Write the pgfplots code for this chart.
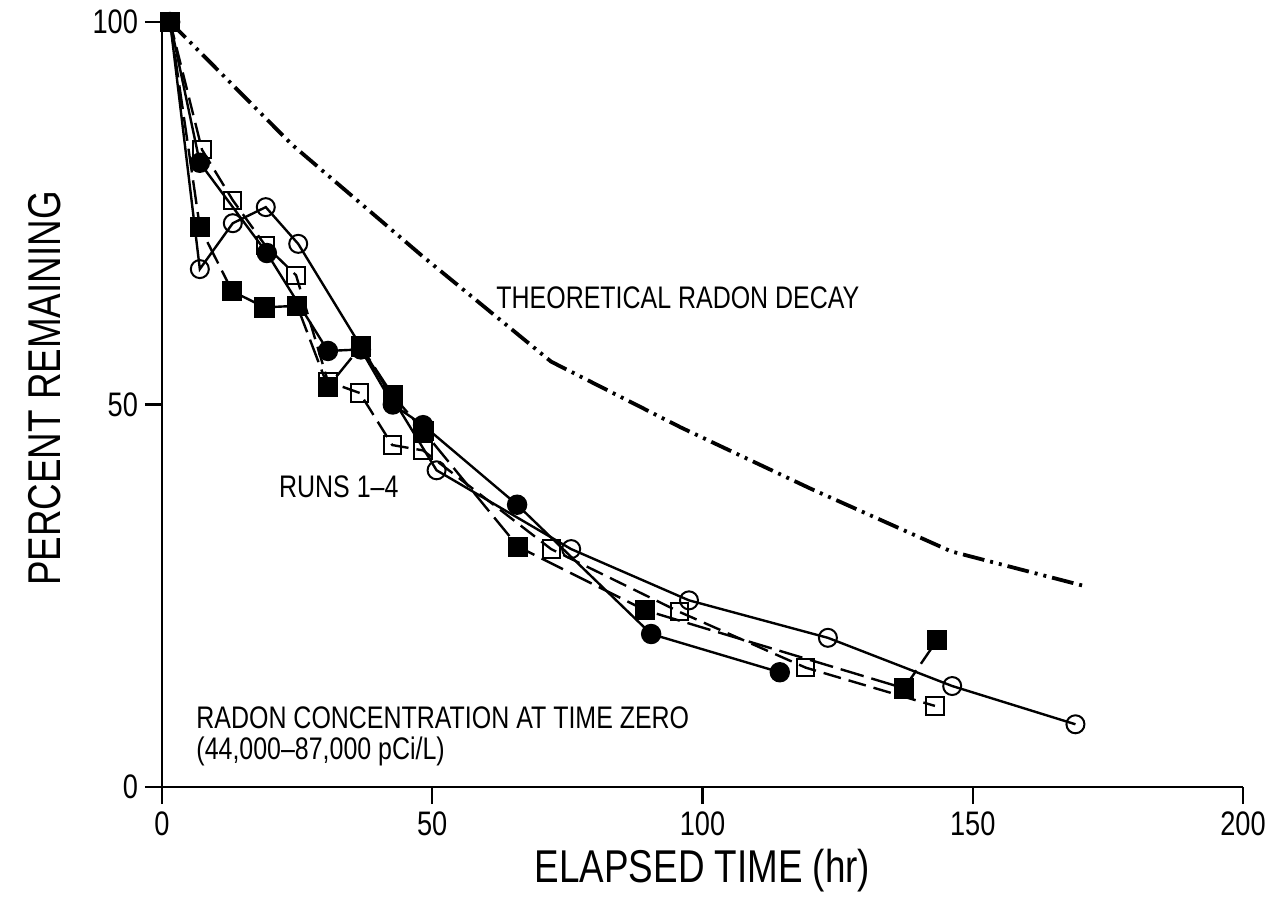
\documentclass[border=0pt]{standalone}
\usepackage{fontspec}
\setmainfont{Liberation Sans}[FakeStretch=0.8]
\usepackage{pgfplots}
\pgfplotsset{compat=1.18}

% run data
\pgfplotstableread{
x y
1.5 100
7.0 81.6
19.4 69.8
30.7 57.0
36.8 57.2
42.7 50.0
48.3 47.3
65.7 36.9
90.5 20.0
114.3 15.0
}\runfcirc
\pgfplotstableread{
x y
1.5 100
7.0 67.7
13.1 73.7
19.2 75.8
25.2 71.0
50.8 41.4
75.7 31.1
97.5 24.4
123.2 19.5
146.2 13.2
169.0 8.2
}\runocirc
\pgfplotstableread{
x y
1.5 100
7.0 73.2
13.0 64.8
19.0 62.7
25.0 62.9
30.7 52.3
36.8 57.6
42.7 51.2
48.4 46.5
65.9 31.4
89.4 23.1
137.3 12.9
143.4 19.2
}\runfsq
\pgfplotstableread{
x y
1.5 100
7.4 83.3
13.1 76.7
19.1 70.8
24.8 66.9
30.7 53.0
36.6 51.5
42.6 44.7
48.3 44.0
72.0 31.1
95.7 22.9
119.1 15.6
143.0 10.6
}\runosq
\pgfplotstableread{
x y
1.5 100
24 84.0
48 69.5
72 55.6
96 47.0
120 39.0
146 30.8
170.5 26.3
}\theory

\begin{document}
\begin{tikzpicture}
\path[use as bounding box] (-81pt,-65pt) rectangle (561pt,393.5pt);
\begin{axis}[
  at={(0,0)}, anchor=south west,
  scale only axis, width=540.5pt, height=382.5pt,
  xmin=0, xmax=200, ymin=0, ymax=100,
  axis x line*=bottom, axis y line*=left,
  axis line style={line width=1.2pt},
  xtick={0,50,100,150,200}, ytick={0,50,100},
  tick align=outside, major tick length=8.5pt,
  tick style={line width=1.2pt, black},
  /pgf/number format/assume math mode=true,
  ticklabel style={font=\fontsize{17}{17}\selectfont},
  xticklabel style={inner sep=0pt, yshift=-3.5pt},
  xlabel={ELAPSED TIME (hr)}, ylabel={PERCENT REMAINING},
  label style={font=\fontsize{23}{23}\selectfont, inner sep=0pt},
  xlabel style={at={([yshift=-42pt]axis description cs:0.5,0)}, anchor=center},
  ylabel style={at={([xshift=-58.5pt, yshift=8pt]axis description cs:0,0.5)}, anchor=center},
  clip=false,
  every axis plot/.append style={line width=1.2pt, black},
]
\addplot[dash pattern=on 11pt off 3pt on 1.5pt off 3pt on 1.5pt off 3pt, line width=1.9pt] table {\theory};
\addplot[mark=*, mark size=4.5pt, mark options={solid, fill=black}] table {\runfcirc};
\addplot[mark=o, mark size=4.5pt, mark options={solid, fill=white, line width=1pt}] table {\runocirc};
\addplot[dash pattern=on 9pt off 4pt, mark=square, mark size=4.3pt, mark options={solid, fill=white, line width=1pt}] table {\runosq};
\addplot[dash pattern=on 12pt off 4pt, mark=square*, mark size=4.5pt, mark options={solid, fill=black}] table {\runfsq};

\begin{scope}[every node/.style={anchor=west, inner sep=0pt, font=\fontsize{15.6}{16}\selectfont}]
\node at (axis cs:61.8,64) {THEORETICAL RADON DECAY};
\node at (axis cs:21.6,39.2) {RUNS 1--4};
\node at (axis cs:6.3,9.0) {RADON CONCENTRATION AT TIME ZERO};
\node at (axis cs:6.3,4.7) {(44,000--87,000 pCi/L)};
\end{scope}
\end{axis}
\end{tikzpicture}
\end{document}
